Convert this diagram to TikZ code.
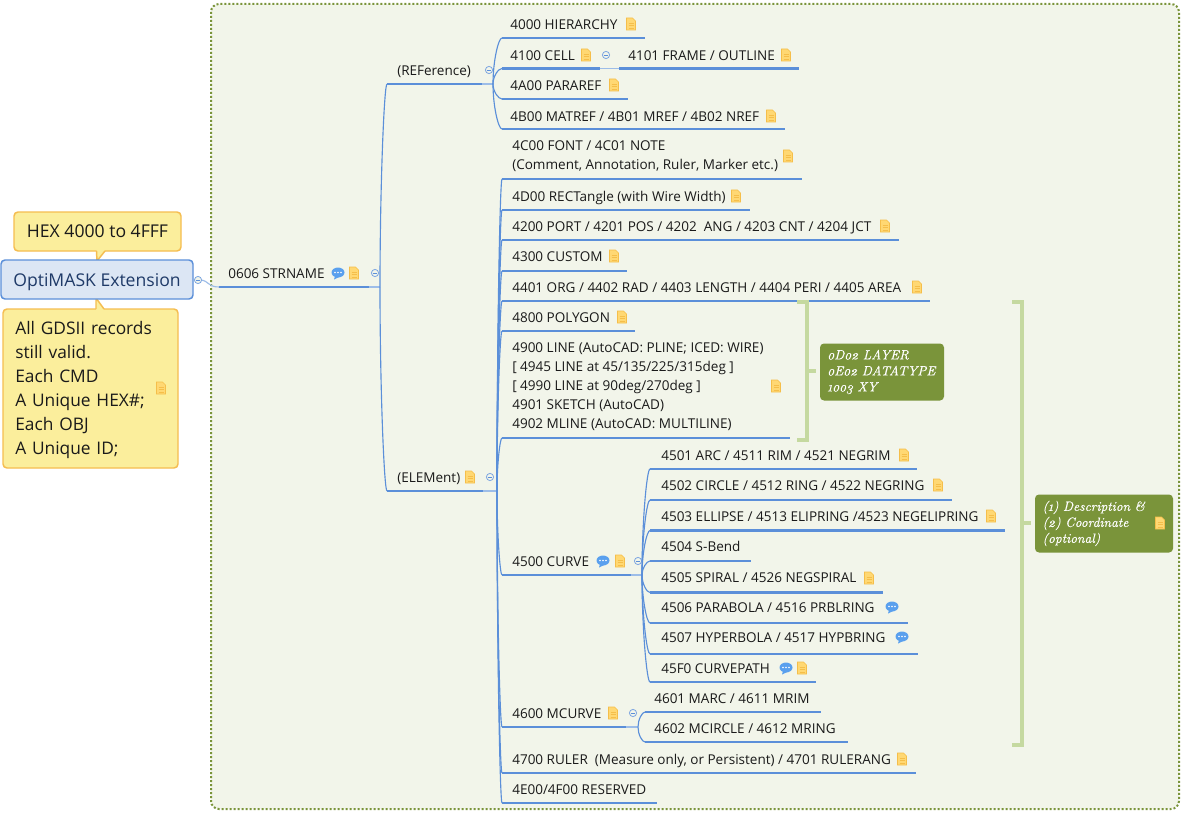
\documentclass[tikz,border=0pt]{standalone}
\usepackage{fontspec}
\usetikzlibrary{calc}
\setmainfont{Open Sans}
\newfontfamily\serif[Numbers=OldStyle,ItalicFeatures={FakeBold=0.35}]{Latin Modern Roman}
\definecolor{linkblue}{HTML}{5B8FD9}
\definecolor{linklight}{HTML}{9DBDE8}
\definecolor{framegreen}{HTML}{7A943A}
\definecolor{framefill}{HTML}{F2F5EA}
\definecolor{brace}{HTML}{C5D9A0}
\definecolor{yel}{HTML}{FBEE9C}
\definecolor{yeledge}{HTML}{F5BD50}
\definecolor{rootfill}{HTML}{DCE6F4}
\definecolor{roottext}{HTML}{1F3A68}
\definecolor{ink}{HTML}{1A1A1A}
\definecolor{notefill}{HTML}{FFD873}
\definecolor{noteedge}{HTML}{F5BE4A}
\definecolor{bub}{HTML}{5AA0EE}
\tikzset{
  under/.style={draw=linkblue,line width=2.1pt},
  conn/.style={draw=linkblue,line width=.85pt},
  thinlink/.style={draw=linklight,line width=.85pt},
  lab/.style={inner sep=0pt,anchor=base west,text=ink,font=\fontsize{10.15pt}{14.25pt}\selectfont},
  mlab/.style={inner sep=0pt,anchor=west,align=left,text=ink,font=\fontsize{10.15pt}{14.25pt}\selectfont},
  callout/.style={draw=yeledge,fill=yel,line width=1.1pt,rounded corners=3pt,text=ink,font=\fontsize{13.2pt}{18pt}\selectfont,inner sep=0pt},
  rootbox/.style={draw=linkblue,fill=rootfill,line width=1.1pt,rounded corners=3pt,text=roottext,font=\fontsize{13.2pt}{16pt}\selectfont,inner sep=0pt},
  greenbox/.style={fill=framegreen,rounded corners=3pt,text=white,inner sep=0pt,align=left,font=\serif\itshape\fontsize{10pt}{12pt}\selectfont},
  bracket/.style={draw=brace,line width=3pt},
  notemark/.pic={
    \fill[notefill,draw=noteedge,line width=.4pt] (-4.5,-6) -- (1.5,-6) -- (4.5,-3) -- (4.5,6) -- (-4.5,6) -- cycle;
    \draw[noteedge,line width=.5pt] (-2.5,-1) -- (2.5,-1) (-2.5,1.5) -- (2.5,1.5) (-2.5,4) -- (2.5,4);
  },
  bubblemark/.pic={
    \fill[bub] (0,-.5) ellipse [x radius=6.5,y radius=5];
    \fill[bub] (-3,3) -- (-4,6.5) -- (1,4) -- cycle;
    \fill[white] (-3,-.5) circle (.8) (0,-.5) circle (.8) (3,-.5) circle (.8);
  },
  foldmark/.pic={
    \draw[draw=linkblue!80,fill=framefill,line width=.6pt] (0,0) circle (3.6);
    \draw[linkblue,line width=.6pt] (-2,0) -- (2,0);
  }
}
\newcommand{\topic}[7]{%
  \coordinate (#1-a) at (#2,#3);
  \coordinate (#1-b) at (#4,#3);
  \draw[under] (#1-a) -- (#1-b);
  \node[lab] (#1) at (#5,#6+5.3) {#7};}
\newcommand{\link}[2]{\draw[conn] (#1) .. controls ($(#1)!.5!(#1|-#2)$) and ($(#1|-#2)!.6!(#2)$) .. (#2);}
\newcommand{\nt}[2]{\pic at (#1,#2) {notemark};}
\newcommand{\bb}[2]{\pic at (#1,#2) {bubblemark};}
\newcommand{\fm}[2]{\pic at (#1,#2) {foldmark};}
\begin{document}
\begin{tikzpicture}[x=.75pt,y=-.75pt]
\useasboundingbox[fill=white] (0,0) rectangle (1181,813);
% frame
\draw[draw=framegreen,fill=framefill,line width=1.5pt,dash pattern=on 1.5pt off 1.5pt,rounded corners=6pt] (211,4) rectangle (1179,809);

% root and callouts
\node[callout,minimum width=125.25pt,minimum height=29.25pt] (hex) at (97.5,231.5) {HEX 4000 to 4FFF};
\node[callout,minimum width=131.25pt,minimum height=119.25pt] (desc) at (90.5,388.5) {};
\node[inner sep=0pt,align=left,text=ink,text width=115pt,font=\fontsize{13pt}{18pt}\selectfont] (desctext) at (92,390) {All GDSII records\\still valid.\\Each CMD\\A Unique HEX\#;\\Each OBJ\\A Unique ID;};
\fill[yel] (96.5,250) -- (97,261) -- (105,250) -- cycle;
\draw[yeledge,line width=1.1pt] (96.5,251) -- (97,261) -- (105,251);
\fill[yel] (96,310) -- (96,298) -- (104,310) -- cycle;
\draw[yeledge,line width=1.1pt] (96,309) -- (96,298) -- (104,309);
\nt{161}{388}
\node[rootbox,minimum width=144pt,minimum height=29.25pt] (root) at (97,279.5) {\raisebox{-2pt}[.76em][.24em]{OptiMASK Extension}};

% level 1
\topic{str}{219}{287}{369}{228}{273}{0606 STRNAME}
\coordinate (str-c) at (380,287);
\draw[thinlink] (str-b) -- (str-c);
\coordinate (root-e) at (201,280);
\draw[thinlink] (root-e) .. controls (209,281) and (208,287) .. (str-a);
\fm{198}{280}
\bb{338}{273}\nt{354}{273}\fm{375}{273}

% level 2
\topic{ref}{387}{84}{482}{397}{70}{(REFerence)}
\coordinate (ref-c) at (493,84);
\draw[thinlink] (ref-b) -- (ref-c);
\fm{489}{70}
\topic{ele}{387}{491}{483}{397}{477}{(ELEMent)}
\coordinate (ele-c) at (497,491);
\draw[thinlink] (ele-b) -- (ele-c);
\nt{470}{477}\fm{490}{477}
\link{str-c}{ref-a}
\link{str-c}{ele-a}

% REFerence children
\topic{t4000}{502}{38}{645}{510}{24}{4000 HIERARCHY}\nt{631}{24}
\topic{t4100}{502}{68.5}{600}{510}{55}{4100 CELL}\nt{586}{55}
\topic{t4101}{619}{68.5}{799}{628}{55}{4101 FRAME / OUTLINE}\nt{786}{55}
\draw[thinlink] (t4100-b) -- (t4101-a);
\fm{606}{55}
\topic{t4A00}{502}{99}{628}{510}{85}{4A00 PARAREF}\nt{614}{85}
\topic{t4B00}{502}{129}{785}{510}{116}{4B00 MATREF / 4B01 MREF / 4B02 NREF}\nt{771}{116}
\link{ref-c}{t4000-a}\link{ref-c}{t4100-a}\link{ref-c}{t4A00-a}\link{ref-c}{t4B00-a}

% ELEMent children
\coordinate (t4C00-a) at (502,179);\coordinate (t4C00-b) at (802,179);
\draw[under] (t4C00-a) -- (t4C00-b);
\node[mlab] (t4C00) at (512,156) {4C00 FONT / 4C01 NOTE\\(Comment, Annotation, Ruler, Marker etc.)};
\nt{788}{156}
\topic{t4D00}{502}{210}{750}{512}{196}{4D00 RECTangle (with Wire Width)}\nt{736}{196}
\topic{t4200}{502}{240}{899}{512}{226}{4200 PORT / 4201 POS / 4202\ \ ANG / 4203 CNT / 4204 JCT}\nt{885}{226}
\topic{t4300}{502}{271}{627}{512}{256}{4300 CUSTOM}\nt{614}{256}
\topic{t4401}{502}{301}{930}{512}{287}{4401 ORG / 4402 RAD / 4403 LENGTH / 4404 PERI / 4405 AREA}\nt{917}{287}
\topic{t4800}{502}{331}{635}{512}{317}{4800 POLYGON}\nt{622}{317}
\coordinate (t4900-a) at (502,438);\coordinate (t4900-b) at (790,438);
\draw[under] (t4900-a) -- (t4900-b);
\node[mlab] (t4900) at (512,386.5) {4900 LINE (AutoCAD: PLINE; ICED: WIRE)\\{[} 4945 LINE at 45/135/225/315deg ]\\{[} 4990 LINE at 90deg/270deg ]\\4901 SKETCH (AutoCAD)\\4902 MLINE (AutoCAD: MULTILINE)};
\nt{776}{386}
\topic{t4500}{502}{575}{631}{512}{561}{4500 CURVE}
\coordinate (t4500-c) at (642,575);
\draw[thinlink] (t4500-b) -- (t4500-c);
\bb{603}{561}\nt{620}{561}\fm{638}{561}
\topic{t4600}{502}{727}{626}{512}{713}{4600 MCURVE}
\coordinate (t4600-c) at (638,727);
\draw[thinlink] (t4600-b) -- (t4600-c);
\nt{613}{713}\fm{633}{713}
\topic{t4700}{502}{773}{916}{512}{759}{4700 RULER\ \ (Measure only, or Persistent) / 4701 RULERANG}\nt{902}{759}
\topic{t4E00}{502}{803}{657}{512}{789}{4E00/4F00 RESERVED}
\foreach \k in {t4C00,t4D00,t4200,t4300,t4401,t4800,t4900,t4500,t4600,t4700,t4E00}{\link{ele-c}{\k-a}}

% CURVE children
\topic{t4501}{650}{469}{917}{661}{455}{4501 ARC / 4511 RIM / 4521 NEGRIM}\nt{904}{455}
\topic{t4502}{650}{500}{952}{661}{485}{4502 CIRCLE / 4512 RING / 4522 NEGRING}\nt{938}{485}
\topic{t4503}{650}{530.5}{1005}{661}{516}{4503 ELLIPSE / 4513 ELIPRING /4523 NEGELIPRING}\nt{991}{516}
\topic{t4504}{650}{561}{751}{661}{546}{4504 S-Bend}
\topic{t4505}{650}{592.5}{883}{661}{577}{4505 SPIRAL / 4526 NEGSPIRAL}\nt{869}{578}
\topic{t4506}{650}{623}{908}{661}{607}{4506 PARABOLA / 4516 PRBLRING}\bb{892}{607}
\topic{t4507}{650}{654}{918}{661}{637}{4507 HYPERBOLA / 4517 HYPBRING}\bb{902}{637}
\topic{t45F0}{650}{682}{816}{661}{668}{45F0 CURVEPATH}\bb{786}{668}\nt{802}{668}
\foreach \k in {t4501,t4502,t4503,t4504,t4505,t4506,t4507,t45F0}{\link{t4500-c}{\k-a}}

% MCURVE children
\topic{t4601}{645}{712}{821}{654}{698}{4601 MARC / 4611 MRIM}
\topic{t4602}{645}{742}{848}{654}{728}{4602 MCIRCLE / 4612 MRING}
\link{t4600-c}{t4601-a}\link{t4600-c}{t4602-a}

% summaries
\node[greenbox,minimum width=93pt,minimum height=42.75pt,text width=82pt] (sumA) at (882,372) {0D02 LAYER\\0E02 DATATYPE\\1003 XY};
\coordinate (brA) at (807,371);
\draw[bracket] (797,302) -- (807,302) -- (807,440) -- (797,440);
\draw[bracket,shorten >=3pt] (brA) -- (brA-|sumA.west);
\node[greenbox,minimum width=103.5pt,minimum height=43.5pt,text width=92pt] (sumB) at (1104,523.5) {(1) Description \&\\(2) Coordinate\\(optional)};
\nt{1160}{523}
\coordinate (brB) at (1022,523);
\draw[bracket] (1012,302) -- (1022,302) -- (1022,745) -- (1012,745);
\draw[bracket,shorten >=3pt] (brB) -- (brB-|sumB.west);
\end{tikzpicture}
\end{document}
